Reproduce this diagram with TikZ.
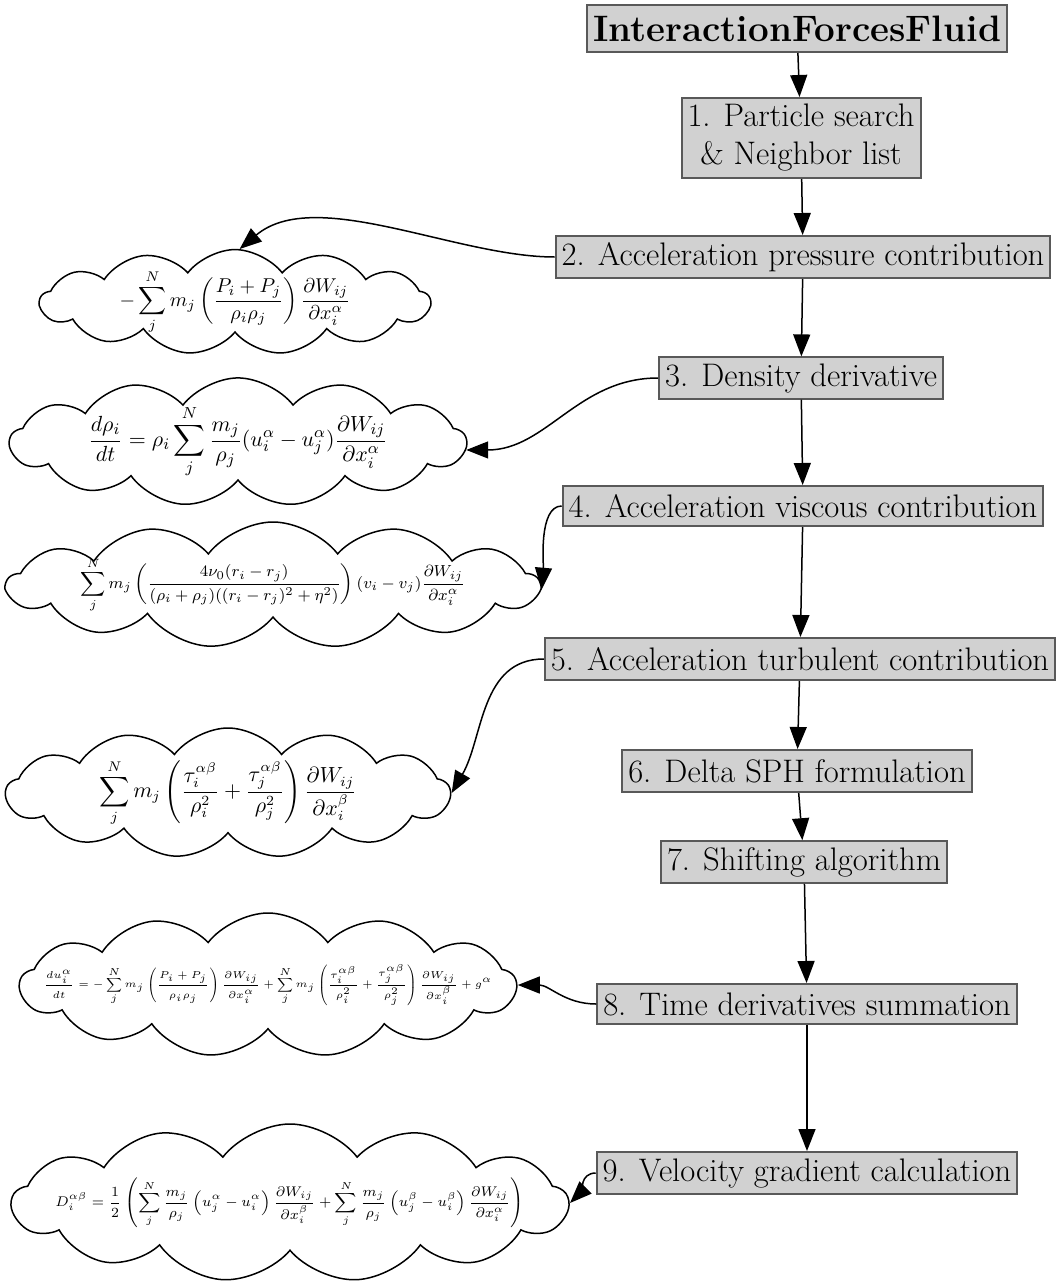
\documentclass[tikz,border=0pt]{standalone}
\usepackage{amsmath, amssymb}
\usetikzlibrary{shapes.symbols, arrows.meta}

\begin{document}
\begin{tikzpicture}[x=0.5pt, y=-0.5pt,
    stepbox/.style={draw=black!65, line width=1pt, fill=black!18, inner xsep=3pt, inner ysep=3pt,
        minimum height=20pt, align=center, font=\fontsize{16.3}{19}\selectfont},
    bubble/.style={cloud, draw, line width=0.75pt, cloud puffs=13, cloud puff arc=105,
        cloud ignores aspect, inner xsep=-15pt, inner ysep=-2pt},
    flow/.style={-{Triangle[length=11pt, width=8.5pt]}, line width=0.75pt}]

    \useasboundingbox (0,0) rectangle (1058,1285);

    % Define the steps of the routine
    \node[stepbox, minimum height=23.5pt, font=\fontsize{18.4}{21}\selectfont\bfseries] (T) at (797,28.5) {InteractionForcesFluid};
    \node[stepbox, minimum height=40pt] (B1) at (801,138) {1. Particle search\\ \& Neighbor list};
    \node[stepbox, minimum height=21pt] (B2) at (803,257) {2. Acceleration pressure contribution};
    \node[stepbox] (B3) at (801,378) {3. Density derivative};
    \node[stepbox] (B4) at (803,506) {4. Acceleration viscous contribution};
    \node[stepbox, minimum height=21pt] (B5) at (800,659) {5. Acceleration turbulent contribution};
    \node[stepbox, minimum height=21pt] (B6) at (797,771) {6. Delta SPH formulation};
    \node[stepbox] (B7) at (804,862) {7. Shifting algorithm};
    \node[stepbox] (B8) at (807,1004) {8. Time derivatives summation};
    \node[stepbox, minimum height=21pt] (B9) at (807,1173) {9. Velocity gradient calculation};

    % Define the clouds with the formulas
    \node[bubble, minimum width=195pt, minimum height=52pt, font=\fontsize{9.7}{11}\selectfont] (C2) at (235,302)
        {$\displaystyle -\sum_j^N m_j \left(\frac{P_i+P_j}{\rho_i\rho_j}\right)\frac{\partial W_{ij}}{\partial x_i^\alpha}$};
    \node[bubble, minimum width=228pt, minimum height=54pt, font=\fontsize{11}{13}\selectfont] (C3) at (238,442)
        {$\displaystyle \frac{d\rho_i}{dt} = \rho_i \sum_j^N \frac{m_j}{\rho_j}(u_i^\alpha - u_j^\alpha)\frac{\partial W_{ij}}{\partial x_i^\alpha}$};
    \node[bubble, minimum width=266pt, minimum height=63pt, font=\fontsize{8.5}{10}\selectfont] (C4) at (273,585)
        {$\displaystyle \sum_j^N m_j \left(\frac{4\nu_0(r_i-r_j)}{(\rho_i+\rho_j)((r_i-r_j)^2+\eta^2)}\right)(v_i-v_j)\frac{\partial W_{ij}}{\partial x_i^\alpha}$};
    \node[bubble, minimum width=222pt, minimum height=65pt, font=\fontsize{10.5}{12}\selectfont] (C5) at (228,793)
        {$\displaystyle \sum_j^N m_j \left(\frac{\tau_i^{\alpha\beta}}{\rho_i^2}+\frac{\tau_j^{\alpha\beta}}{\rho_j^2}\right)\frac{\partial W_{ij}}{\partial x_i^\beta}$};
    \node[bubble, minimum width=248pt, minimum height=72pt, inner xsep=-45pt, font=\fontsize{4.9}{6}\selectfont] (C8) at (268,985)
        {$\displaystyle \frac{du_i^\alpha}{dt} = -\sum_j^N m_j\left(\frac{P_i+P_j}{\rho_i\rho_j}\right)\frac{\partial W_{ij}}{\partial x_i^\alpha} + \sum_j^N m_j\left(\frac{\tau_i^{\alpha\beta}}{\rho_i^2}+\frac{\tau_j^{\alpha\beta}}{\rho_j^2}\right)\frac{\partial W_{ij}}{\partial x_i^\beta} + g^\alpha$};
    \node[bubble, minimum width=278pt, minimum height=79pt, inner xsep=-40pt, font=\fontsize{6.9}{8}\selectfont] (C9) at (290,1203)
        {$\displaystyle D_i^{\alpha\beta} = \frac{1}{2}\left(\sum_j^N \frac{m_j}{\rho_j}\left(u_j^\alpha-u_i^\alpha\right)\frac{\partial W_{ij}}{\partial x_i^\beta} + \sum_j^N \frac{m_j}{\rho_j}\left(u_j^\beta-u_i^\beta\right)\frac{\partial W_{ij}}{\partial x_i^\alpha}\right)$};

    % Draw the main flow
    \draw[flow] (T) -- (B1);
    \draw[flow] (B1) -- (B2);
    \draw[flow] (B2) -- (B3);
    \draw[flow] (B3) -- (B4);
    \draw[flow] (B4) -- (B5);
    \draw[flow] (B5) -- (B6);
    \draw[flow] (B6) -- (B7);
    \draw[flow] (B7) -- (B8);
    \draw[flow] (B8) -- (B9);

    % Draw the links from the steps to their formulas
    \draw[flow] (B2.west) to[out=180, in=40, looseness=0.8] (C2.85);
    \draw[flow] (B3.west) to[out=180, in=0] (C3.-2);
    \draw[flow] (B4.west) to[out=180, in=85, looseness=0.7] (C4.-1);
    \draw[flow] (B5.west) to[out=180, in=60] (C5.east);
    \draw[flow] (B8.west) to[out=180, in=0] (C8.east);
    \draw[flow] (B9.west) to[out=180, in=45] (C9.east);
\end{tikzpicture}
\end{document}
